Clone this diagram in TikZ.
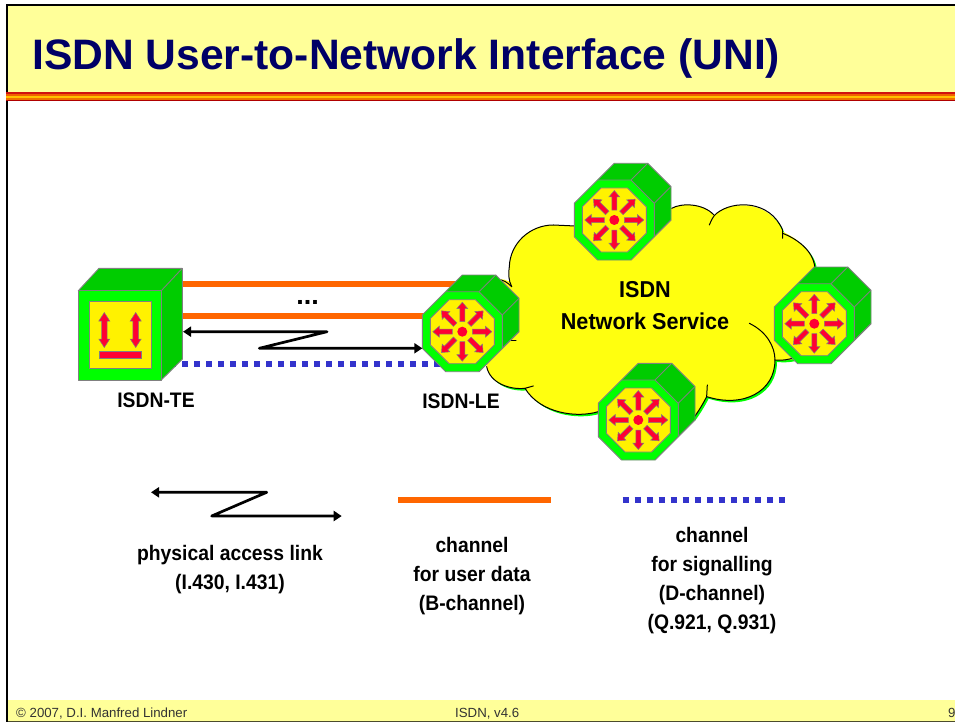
\documentclass[tikz,border=0pt]{standalone}
\usepackage{fontspec}
\setmainfont{Liberation Sans}
\usetikzlibrary{arrows.meta}
\definecolor{hdr}{HTML}{FFFF99}
\definecolor{navy}{HTML}{000066}
\definecolor{lime}{HTML}{00FF00}
\definecolor{dgreen}{HTML}{00CC00}
\definecolor{edgegrey}{HTML}{808080}
\definecolor{rred}{HTML}{FF0033}
\definecolor{chorange}{HTML}{FF6600}
\definecolor{chblue}{HTML}{3333CC}
\definecolor{cloudy}{HTML}{FFFF0F}
\definecolor{foot}{HTML}{333333}
\definecolor{bandA}{HTML}{D01010}
\definecolor{bandB}{HTML}{F06000}
\definecolor{bandC}{HTML}{FFC000}
\definecolor{bandD}{HTML}{F07000}
\definecolor{bandE}{HTML}{B00000}
\newcommand{\lblfont}{\fontsize{21}{29}\selectfont\bfseries\addfontfeature{FakeStretch=0.92}}
\tikzset{
  x=1pt,y=-1pt,
  shell/.style={draw=edgegrey,line width=0.9pt,line join=round},
  lbl/.style={font=\lblfont,align=center,inner sep=0pt,text=black},
  bchan/.style={draw=chorange,line width=5.5pt},
  dchan/.style={draw=chblue,line width=6pt,dash pattern=on 6pt off 6pt},
  link/.style={draw=black,line width=2.7pt,line join=round,{Triangle[length=8pt,width=10pt]}-{Triangle[length=8pt,width=10pt]}},
  footer/.style={font=\fontsize{13.25}{15}\selectfont,text=foot,inner sep=0pt,anchor=base west},
  rarrow/.style={fill=rred,draw=edgegrey,line width=0.5pt,line join=miter},
  cloudline/.style={draw=black,line width=1pt,line cap=round},
  router/.pic={
    \fill[dgreen] (-16.7,-40)--(0,-56.7)--(33.4,-56.7)--(56.7,-33.4)--(56.7,0)--(16.7,40)--(16.7,0)--cycle;
    \draw[shell] (-16.7,-40)--(0,-56.7)--(33.4,-56.7)--(56.7,-33.4)--(56.7,0)--(16.7,40);
    \draw[shell] (16.7,-40)--(33.4,-56.7) (40,-16.7)--(56.7,-33.4) (40,16.7)--(56.7,0);
    \draw[shell,fill=lime] (-16.7,-40)--(16.7,-40)--(40,-16.7)--(40,16.7)--(16.7,40)--(-16.7,40)--(-40,16.7)--(-40,-16.7)--cycle;
    \draw[shell,fill=yellow] (-13.2,-32)--(13.2,-32)--(32,-13.2)--(32,13.2)--(13.2,32)--(-13.2,32)--(-32,13.2)--(-32,-13.2)--cycle;
    \foreach \a in {0,45,...,315}{
      \draw[rarrow,rotate=\a] (10,-2.5)--(23,-2.5)--(23,-5.5)--(29.5,0)--(23,5.5)--(23,2.5)--(10,2.5)--cycle;
    }
    \fill[rred] (0,0) circle[radius=5];
  },
  dblarrow/.pic={
    \draw[rarrow] (0,-17.5)--(5.5,-9)--(2.8,-9)--(2.8,9)--(5.5,9)--(0,17.5)--(-5.5,9)--(-2.8,9)--(-2.8,-9)--(-5.5,-9)--cycle;
  }
}
\begin{document}
\begin{tikzpicture}
\useasboundingbox (0,0) rectangle (955,722);
\clip (0,0) rectangle (955,722);
% page frame
\fill[white] (0,0) rectangle (955,722);
\fill[hdr] (7,5) rectangle (955,93);
\fill[hdr] (7,700) rectangle (955,722);
\fill[black] (6,4) rectangle (955,6.5);
\fill[black] (6,4) rectangle (8,722);
\fill[black!70!hdr] (8,720.8) rectangle (955,722);
\fill[bandA] (6,92) rectangle (955,94);
\fill[bandB] (6,94) rectangle (955,96);
\fill[bandC] (6,96) rectangle (955,98);
\fill[bandD] (6,98) rectangle (955,100);
\fill[bandE] (6,100) rectangle (955,100.8);
\node[font=\fontsize{42.6}{46}\selectfont\bfseries,text=navy,inner sep=0pt,anchor=base west] (title) at (32,70) {ISDN User-to-Network Interface (UNI)};
\node[footer] (fa) at (16,717.5) {© 2007, D.I. Manfred Lindner};
\node[footer] (fb) at (455,717.5) {ISDN, v4.6};
\node[footer] (fc) at (948,717.5) {9};

% connector ends
\coordinate (b1a) at (180,284); \coordinate (b1b) at (462,284);
\coordinate (b2a) at (180,316); \coordinate (b2b) at (462,316);
\coordinate (da)  at (170.3,364.3); \coordinate (db) at (462,364.3);
\coordinate (la)  at (183,331.7); \coordinate (lm1) at (327,331.7);
\coordinate (lm2) at (259.3,348.3); \coordinate (lb) at (422.3,348.3);

\draw[bchan] (b1a) -- (b1b);
\draw[bchan] (b2a) -- (b2b);
\draw[dchan] (da) -- (db);

% cloud (coordinates in units of 1/3 px)
\begin{scope}[shift={(490,150)},x=0.3333pt,y=-0.3333pt]
  \def\cloudfill{(58,350) .. controls (60,280) and (120,225) .. (190,225)
    -- (255,228) -- (545,175) .. controls (575,158) and (640,160) .. (672,195)
    .. controls (720,150) and (840,150) .. (878,245)
    .. controls (930,270) and (975,310) .. (975,360)
    -- (930,622) .. controls (900,632) and (875,632) .. (855,630)
    .. controls (855,725) and (760,775) .. (650,740)
    .. controls (640,760) and (625,785) .. (610,805)
    -- (325,785) .. controls (260,805) and (150,790) .. (105,715)
    .. controls (60,720) and (0,700) .. (-10,650)
    -- (-10,420) -- (0,395) .. controls (20,385) and (40,385) .. (58,395) -- cycle}
  \fill[lime] [shift={(6,6)}] \cloudfill;
  \fill[cloudy] \cloudfill;
  \draw[cloudline] (65,410) .. controls (55,390) and (55,370) .. (58,350) .. controls (60,280) and (120,225) .. (190,225) -- (255,228);
  \draw[cloudline] (545,175) .. controls (575,158) and (640,160) .. (672,195);
  \draw[cloudline] (658,225) .. controls (665,210) and (668,200) .. (680,190) .. controls (730,150) and (840,150) .. (878,240) -- (878,265);
  \draw[cloudline] (878,250) .. controls (930,270) and (975,310) .. (975,360);
  \draw[cloudline] (778,520) .. controls (830,545) and (855,590) .. (855,630) .. controls (855,725) and (760,775) .. (650,740) -- (652,705);
  \draw[cloudline] (855,630) .. controls (875,632) and (895,630) .. (915,622);
  \draw[cloudline] (650,740) .. controls (640,760) and (625,785) .. (610,805);
  \draw[cloudline] (325,785) .. controls (260,805) and (150,790) .. (105,715) -- (130,708);
  \draw[cloudline] (105,715) .. controls (60,720) and (0,700) .. (-10,650);
  \draw[cloudline] (0,395) .. controls (20,385) and (40,385) .. (65,410);
  \draw[cloudline] (50,572) -- (78,572);
\end{scope}

% routers
\pic at (614.3,220) {router};
\pic at (814.3,323.7) {router};
\pic at (638.3,420) {router};
\pic at (462.3,331.7) {router};

% terminal
\draw[shell,fill=dgreen] (78.3,290.7) -- (99,268.3) -- (182.3,268.3) -- (182.3,359.3) -- (161.3,380) -- cycle;
\draw[shell] (161.3,290.7) -- (182.3,268.3);
\draw[shell,fill=lime] (78.3,290.7) rectangle (161.3,380);
\draw[shell,fill=yellow] (89,301.7) rectangle (151.3,368.7);
\pic at (104.3,330) {dblarrow};
\pic at (135.7,330) {dblarrow};
\draw[rarrow] (99.3,351) rectangle (141,358);

% access link
\draw[link] (la) -- (lm1) -- (lm2) -- (lb);

% labels
\node[lbl,font=\fontsize{27}{27}\selectfont\bfseries,anchor=base] (dots) at (307.7,304) {...};
\node[lbl] (te) at (156,400) {ISDN-TE};
\node[lbl] (le) at (461,401) {ISDN-LE};
\node[lbl,font=\fontsize{23}{32}\selectfont\bfseries\addfontfeature{FakeStretch=0.94}] (svc) at (645,306) {ISDN\\Network Service};

% legend
\coordinate (ka) at (151,492.3); \coordinate (km1) at (266.7,492.3);
\coordinate (km2) at (211.7,516); \coordinate (kb) at (341.7,516);
\draw[link] (ka) -- (km1) -- (km2) -- (kb);
\coordinate (oa) at (398.3,500); \coordinate (ob) at (550.7,500);
\draw[bchan] (oa) -- (ob);
\coordinate (ba) at (622.7,500); \coordinate (bb) at (784.7,500);
\draw[dchan] (ba) -- (bb);
\node[lbl] (t1) at (230,569.5) {physical access link\\(I.430, I.431)};
\node[lbl] (t2) at (472,576) {channel\\for user data\\(B-channel)};
\node[lbl] (t3) at (712,581) {channel\\for signalling\\(D-channel)\\(Q.921, Q.931)};
\end{tikzpicture}
\end{document}
